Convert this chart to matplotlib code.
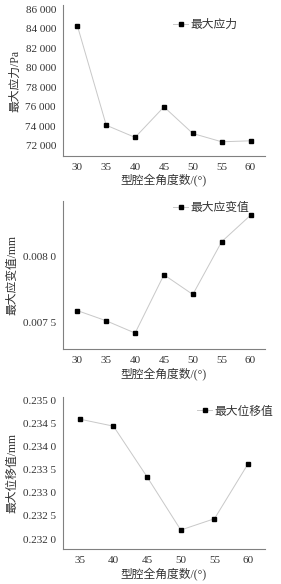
import matplotlib
matplotlib.use("Agg")
import matplotlib.pyplot as plt
from matplotlib.ticker import FuncFormatter

plt.rcParams['font.family'] = ['Liberation Serif', 'Noto Sans CJK SC', 'DejaVu Sans']

# Data
angles_a = [30, 35, 40, 45, 50, 55, 60]
stress = [84300, 74100, 72850, 75980, 73250, 72400, 72500]

angles_b = [30, 35, 40, 45, 50, 55, 60]
strain = [0.00759, 0.007513, 0.00742, 0.007861, 0.007712, 0.008111, 0.008311]

angles_c = [35, 40, 45, 50, 55, 60]
disp = [0.234597, 0.234445, 0.233345, 0.232195, 0.23244, 0.233633]

xlabel = '型腔全角度数/(°)'
ylabels = ['最大应力/Pa', '最大应变值/mm', '最大位移值/mm']
legends = ['最大应力', '最大应变值', '最大位移值']

fig = plt.figure(figsize=(2.81, 5.84), dpi=100)

L, R = 0.224, 0.943
ax1 = fig.add_axes([L, 0.733, R - L, 0.991 - 0.733])
ax2 = fig.add_axes([L, 0.402, R - L, 0.655 - 0.402])
ax3 = fig.add_axes([L, 0.0594, R - L, 0.321 - 0.0594])

def fmt_thousands(v, pos):
    s = f"{int(round(v)):,}".replace(',', ' ')
    return s

def fmt_dec4(v, pos):
    s = f"{v:.4f}"
    return s[:-1] + ' ' + s[-1]

def style(ax, x, y, ylab, leg, legpos):
    ax.plot(x, y, color='#c8c8c8', lw=0.7, marker='s', ms=2.6,
            mfc='black', mec='black', label=leg)
    for s in ['top', 'right']:
        ax.spines[s].set_visible(False)
    for s in ['left', 'bottom']:
        ax.spines[s].set_color('#808080')
        ax.spines[s].set_linewidth(0.8)
    ax.tick_params(length=0, labelsize=8, colors='#333333', pad=5)
    ax.set_xlabel(xlabel, fontsize=8.5, color='#333333', labelpad=2)
    ax.set_ylabel(ylab, fontsize=8.5, color='#333333', labelpad=3)
    lg = ax.legend(loc='center left', bbox_to_anchor=legpos, frameon=False,
                   fontsize=8.5, handlelength=1.3, handletextpad=0.2,
                   borderpad=0, borderaxespad=0, numpoints=1)
    for t in lg.get_texts():
        t.set_color('#333333')

style(ax1, angles_a, stress, ylabels[0], legends[0], (0.545, 0.868))
ax1.set_xlim(27.5, 62.5)
ax1.set_ylim(70950, 86400)
ax1.set_xticks(angles_a)
ax1.set_yticks(range(72000, 86001, 2000))
ax1.yaxis.set_major_formatter(FuncFormatter(fmt_thousands))

style(ax2, angles_b, strain, ylabels[1], legends[1], (0.545, 0.957))
ax2.set_xlim(27.5, 62.5)
ax2.set_ylim(0.007298, 0.008415)
ax2.set_xticks(angles_b)
ax2.set_yticks([0.0075, 0.0080])
ax2.yaxis.set_major_formatter(FuncFormatter(fmt_dec4))

style(ax3, angles_c, disp, ylabels[2], legends[2], (0.663, 0.902))
ax3.set_xlim(32.5, 62.5)
ax3.set_ylim(0.231777, 0.235087)
ax3.set_xticks(angles_c)
ax3.set_yticks([0.2320, 0.2325, 0.2330, 0.2335, 0.2340, 0.2345, 0.2350])
ax3.yaxis.set_major_formatter(FuncFormatter(fmt_dec4))

fig.savefig('out.png', dpi=100)
